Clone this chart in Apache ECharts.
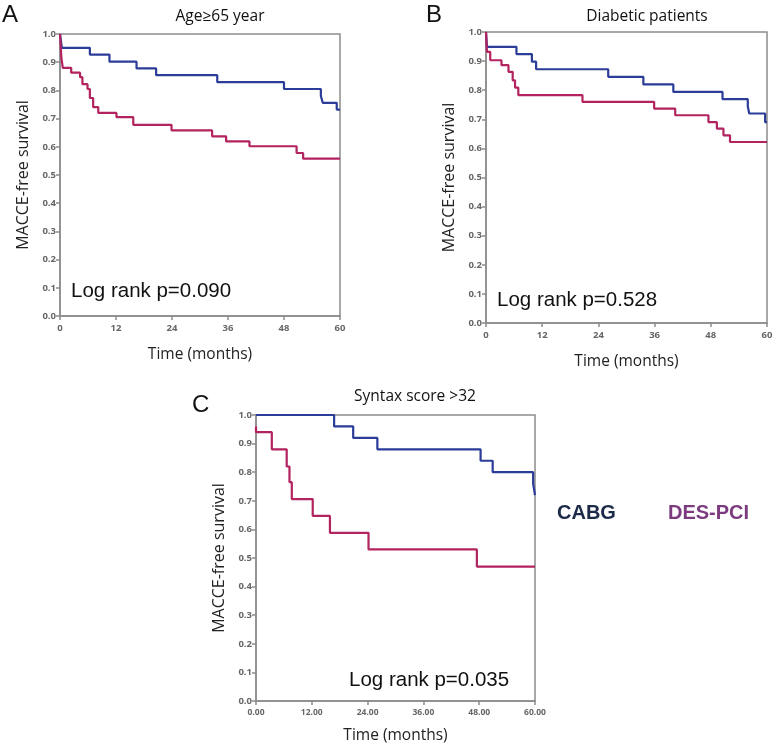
<!DOCTYPE html>
<html>
<head>
<meta charset="utf-8">
<script src="https://cdn.jsdelivr.net/npm/echarts@6/dist/echarts.min.js"></script>
<style>
  html, body { margin: 0; padding: 0; background: #fff; }
  #chart { width: 776px; height: 747px; }
</style>
</head>
<body>
<div id="chart"></div>
<script>
// 时间刻度
const timeTicks = [0, 12, 24, 36, 48, 60]

// A: Age>=65
const aCabgTime = [0, 0.4, 6.4, 10.6, 16.4, 20.6, 33.7, 48, 55.9, 56.3, 59.3, 60]
const aCabgSurv = [1, 0.951, 0.927, 0.902, 0.878, 0.854, 0.829, 0.805, 0.78, 0.756, 0.732, 0.732]
const aPciTime = [0, 0.3, 0.6, 2.4, 4.3, 4.8, 5.9, 6.4, 7.1, 8.2, 12.1, 15.7, 23.9, 32.6, 35.6, 40.6, 50.7, 52.1, 60]
const aPciSurv = [1, 0.915, 0.88, 0.863, 0.847, 0.822, 0.805, 0.773, 0.741, 0.72, 0.705, 0.678, 0.658, 0.637, 0.619, 0.602, 0.578, 0.558, 0.558]

// B: Diabetic
const bCabgTime = [0, 0.2, 6.5, 9.8, 10.7, 26.1, 33.6, 40, 50.5, 55.9, 56.2, 59.6, 60]
const bCabgSurv = [1, 0.949, 0.924, 0.898, 0.872, 0.846, 0.82, 0.794, 0.769, 0.745, 0.72, 0.69, 0.69]
const bPciTime = [0, 0.2, 0.9, 3.3, 4.8, 5.7, 6.2, 6.9, 20.6, 35.9, 40.4, 47.5, 49.3, 50.7, 52.1, 60]
const bPciSurv = [1, 0.932, 0.903, 0.886, 0.863, 0.834, 0.809, 0.783, 0.76, 0.737, 0.714, 0.69, 0.668, 0.645, 0.622, 0.622]

// C: Syntax score >32
const cCabgTime = [0, 16.8, 20.9, 26.1, 48.3, 50.9, 59.6, 60]
const cCabgSurv = [1, 0.96, 0.92, 0.88, 0.84, 0.80, 0.76, 0.72]
const cPciTime = [0, 0, 3.4, 6.6, 7.2, 7.7, 12.2, 15.9, 24.2, 47.5, 60]
const cPciSurv = [0.96, 0.94, 0.88, 0.82, 0.765, 0.706, 0.647, 0.588, 0.53, 0.47, 0.47]

const BLUE = '#2b3d98'
const RED = '#b3235f'
const AXIS = '#8c8c8c'

const zip = (t, s) => t.map((v, i) => [v, s[i]])

const grids = [
  { left: 60, top: 34, width: 280, height: 282 },
  { left: 486, top: 32, width: 281, height: 291 },
  { left: 256, top: 415, width: 279, height: 286 }
]

const xAxes = grids.map((g, i) => ({
  type: 'value', gridIndex: i, min: 0, max: 60, interval: 12,
  name: 'Time (months)', nameLocation: 'middle', nameGap: i === 2 ? 27 : 31,
  nameTextStyle: { fontFamily: 'Open Sans', fontSize: 15.5, color: '#222' },
  axisLine: { lineStyle: { color: AXIS, width: 1.5 } },
  axisTick: { show: true, length: 4, lineStyle: { color: AXIS, width: 1.5 } },
  axisLabel: {
    fontFamily: 'Open Sans', fontSize: i === 2 ? 8.5 : 9.5, color: '#666', fontWeight: 'bold', margin: 7,
    formatter: v => i === 2 ? v.toFixed(2) : String(v)
  },
  splitLine: { show: false }
}))

const yAxes = grids.map((g, i) => ({
  type: 'value', gridIndex: i, min: 0, max: 1, interval: 0.1,
  name: 'MACCE-free survival', nameLocation: 'middle', nameGap: 29,
  nameTextStyle: { fontFamily: 'Open Sans', fontSize: 16, color: '#222' },
  axisLine: { lineStyle: { color: AXIS, width: 1.5 } },
  axisTick: { show: true, length: 4, lineStyle: { color: AXIS, width: 1.5 } },
  axisLabel: {
    fontFamily: 'Open Sans', fontSize: 9.5, color: '#666', fontWeight: 'bold', margin: 4,
    formatter: v => v.toFixed(1)
  },
  splitLine: { show: false }
}))

const kmSeries = (data, color, idx) => ({
  type: 'line', step: 'end', data, xAxisIndex: idx, yAxisIndex: idx,
  symbol: 'none', lineStyle: { color, width: 2.2 }, z: 3
})

const txt = (x, y, text, size, opts = {}) => ({
  type: 'text', x, y,
  style: Object.assign({
    text, fontSize: size, fontFamily: 'Open Sans', fill: '#111',
    textAlign: 'left', textVerticalAlign: 'middle'
  }, opts)
})

const chart = echarts.init(document.getElementById('chart'))
chart.setOption({
  animation: false,
  grid: grids.map(g => Object.assign({ show: true, borderColor: AXIS, borderWidth: 1.5, containLabel: false }, g)),
  xAxis: xAxes,
  yAxis: yAxes,
  series: [
    kmSeries(zip(aCabgTime, aCabgSurv), BLUE, 0),
    kmSeries(zip(aPciTime, aPciSurv), RED, 0),
    kmSeries(zip(bCabgTime, bCabgSurv), BLUE, 1),
    kmSeries(zip(bPciTime, bPciSurv), RED, 1),
    kmSeries(zip(cCabgTime, cCabgSurv), BLUE, 2),
    kmSeries(zip(cPciTime, cPciSurv), RED, 2)
  ],
  graphic: [
    txt(2, 15, 'A', 24, { fontFamily: 'Liberation Sans' }),
    txt(426, 15, 'B', 24, { fontFamily: 'Liberation Sans' }),
    txt(192, 405, 'C', 24, { fontFamily: 'Liberation Sans' }),
    txt(220, 17, 'Age≥65 year', 15.5, { textAlign: 'center' }),
    txt(647, 17, 'Diabetic patients', 15.5, { textAlign: 'center' }),
    txt(415, 397, 'Syntax score >32', 15.5, { textAlign: 'center' }),
    txt(71, 291, 'Log rank p=0.090', 20.5, { fontFamily: 'Liberation Sans' }),
    txt(497, 300, 'Log rank p=0.528', 20.5, { fontFamily: 'Liberation Sans' }),
    txt(349, 680, 'Log rank p=0.035', 20.5, { fontFamily: 'Liberation Sans' }),
    txt(557, 513, 'CABG', 20, { fontFamily: 'Liberation Sans', fontWeight: 'bold', fill: '#1c2a48' }),
    txt(668, 513, 'DES-PCI', 20, { fontFamily: 'Liberation Sans', fontWeight: 'bold', fill: '#7b3b7e' })
  ]
})
</script>
</body>
</html>
